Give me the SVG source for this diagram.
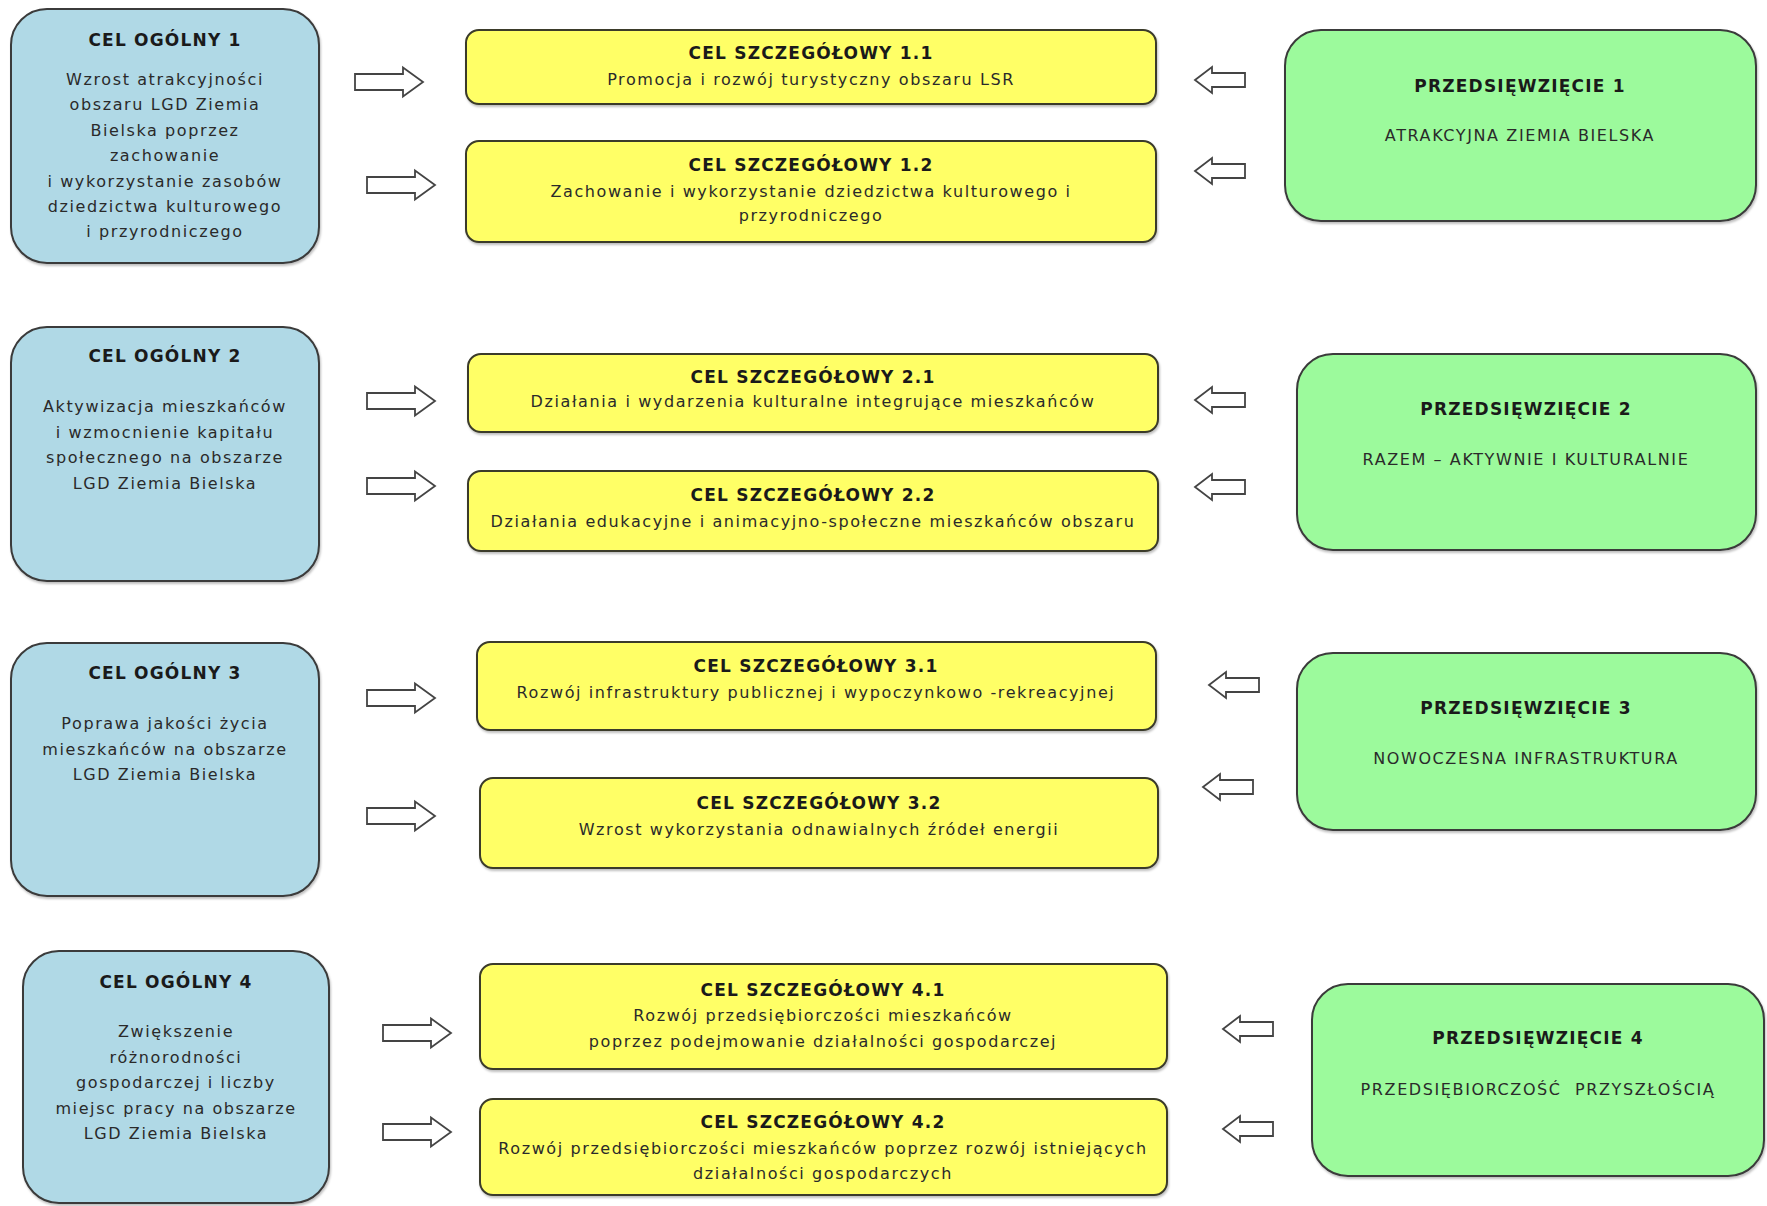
<svg xmlns="http://www.w3.org/2000/svg" xmlns:xlink="http://www.w3.org/1999/xlink" width="1767" height="1206" viewBox="0 0 1767 1206">
<defs>
<style>
.blue{fill:#b0d9e6;stroke:#3a3a3a;stroke-width:2}
.yel{fill:#ffff66;stroke:#3a3a2a;stroke-width:2}
.grn{fill:#9cfa9c;stroke:#3a3a3a;stroke-width:2}
.arr{fill:#ffffff;stroke:#444444;stroke-width:1.8;stroke-linejoin:miter}
text{font-family:"DejaVu Sans",Verdana,"Liberation Sans",sans-serif;text-anchor:middle}
.t{font-weight:bold;font-size:17px;letter-spacing:1.2px;fill:#1a1a1a}
.b{font-size:16px;letter-spacing:1.6px;fill:#2a2a2a}
</style>
<filter id="sh" x="-5%" y="-5%" width="110%" height="115%">
<feDropShadow dx="1" dy="2" stdDeviation="1.2" flood-color="#000" flood-opacity="0.25"/>
</filter>
<path id="ra" class="arr" d="M0,-8 H48 V-14.5 L68,0 L48,14.5 V8 H0 Z"/>
<path id="la" class="arr" d="M0,0 L17,-13 V-7 H50 V7 H17 V13 Z"/>
</defs>
<rect width="1767" height="1206" fill="#ffffff"/>

<g id="connectors">
<use xlink:href="#ra" href="#ra" transform="translate(355,82)"/>
<use xlink:href="#ra" href="#ra" transform="translate(367,185)"/>
<use xlink:href="#ra" href="#ra" transform="translate(367,401)"/>
<use xlink:href="#ra" href="#ra" transform="translate(367,486)"/>
<use xlink:href="#ra" href="#ra" transform="translate(367,698)"/>
<use xlink:href="#ra" href="#ra" transform="translate(367,816)"/>
<use xlink:href="#ra" href="#ra" transform="translate(383,1033)"/>
<use xlink:href="#ra" href="#ra" transform="translate(383,1132)"/>
<use xlink:href="#la" href="#la" transform="translate(1195,80)"/>
<use xlink:href="#la" href="#la" transform="translate(1195,171)"/>
<use xlink:href="#la" href="#la" transform="translate(1195,400)"/>
<use xlink:href="#la" href="#la" transform="translate(1195,487)"/>
<use xlink:href="#la" href="#la" transform="translate(1209,685)"/>
<use xlink:href="#la" href="#la" transform="translate(1203,787)"/>
<use xlink:href="#la" href="#la" transform="translate(1223,1029)"/>
<use xlink:href="#la" href="#la" transform="translate(1223,1129)"/>
</g>

<g id="cel-ogolny-1">
<rect class="blue" filter="url(#sh)" x="11" y="9" width="308" height="254" rx="36"/>
<text class="t" x="165" y="46">CEL OGÓLNY 1</text>
<text class="b" x="165" y="85">Wzrost atrakcyjności</text>
<text class="b" x="165" y="110.4">obszaru LGD Ziemia</text>
<text class="b" x="165" y="135.8">Bielska poprzez</text>
<text class="b" x="165" y="161.2">zachowanie</text>
<text class="b" x="165" y="186.6">i wykorzystanie zasobów</text>
<text class="b" x="165" y="212">dziedzictwa kulturowego</text>
<text class="b" x="165" y="237.4">i przyrodniczego</text>
</g>

<g id="cel-ogolny-2">
<rect class="blue" filter="url(#sh)" x="11" y="327" width="308" height="254" rx="36"/>
<text class="t" x="165" y="362">CEL OGÓLNY 2</text>
<text class="b" x="165" y="412">Aktywizacja mieszkańców</text>
<text class="b" x="165" y="437.5">i wzmocnienie kapitału</text>
<text class="b" x="165" y="463">społecznego na obszarze</text>
<text class="b" x="165" y="488.5">LGD Ziemia Bielska</text>
</g>

<g id="cel-ogolny-3">
<rect class="blue" filter="url(#sh)" x="11" y="643" width="308" height="253" rx="36"/>
<text class="t" x="165" y="679">CEL OGÓLNY 3</text>
<text class="b" x="165" y="729">Poprawa jakości życia</text>
<text class="b" x="165" y="754.5">mieszkańców na obszarze</text>
<text class="b" x="165" y="780">LGD Ziemia Bielska</text>
</g>

<g id="cel-ogolny-4">
<rect class="blue" filter="url(#sh)" x="23" y="951" width="306" height="252" rx="36"/>
<text class="t" x="176" y="988">CEL OGÓLNY 4</text>
<text class="b" x="176" y="1037">Zwiększenie</text>
<text class="b" x="176" y="1062.5">różnorodności</text>
<text class="b" x="176" y="1088">gospodarczej i liczby</text>
<text class="b" x="176" y="1113.5">miejsc pracy na obszarze</text>
<text class="b" x="176" y="1139">LGD Ziemia Bielska</text>
</g>

<g id="cel-szczegolowy-1-1">
<rect class="yel" filter="url(#sh)" x="466" y="30" width="690" height="74" rx="13"/>
<text class="t" x="811" y="59">CEL SZCZEGÓŁOWY 1.1</text>
<text class="b" x="811" y="85">Promocja i rozwój turystyczny obszaru LSR</text>
</g>

<g id="cel-szczegolowy-1-2">
<rect class="yel" filter="url(#sh)" x="466" y="141" width="690" height="101" rx="13"/>
<text class="t" x="811" y="171">CEL SZCZEGÓŁOWY 1.2</text>
<text class="b" x="811" y="197">Zachowanie i wykorzystanie dziedzictwa kulturowego i</text>
<text class="b" x="811" y="221">przyrodniczego</text>
</g>

<g id="cel-szczegolowy-2-1">
<rect class="yel" filter="url(#sh)" x="468" y="354" width="690" height="78" rx="13"/>
<text class="t" x="813" y="383">CEL SZCZEGÓŁOWY 2.1</text>
<text class="b" x="813" y="407">Działania i wydarzenia kulturalne integrujące mieszkańców</text>
</g>

<g id="cel-szczegolowy-2-2">
<rect class="yel" filter="url(#sh)" x="468" y="471" width="690" height="80" rx="13"/>
<text class="t" x="813" y="501">CEL SZCZEGÓŁOWY 2.2</text>
<text class="b" x="813" y="527">Działania edukacyjne i animacyjno-społeczne mieszkańców obszaru</text>
</g>

<g id="cel-szczegolowy-3-1">
<rect class="yel" filter="url(#sh)" x="477" y="642" width="679" height="88" rx="13"/>
<text class="t" x="816" y="672">CEL SZCZEGÓŁOWY 3.1</text>
<text class="b" x="816" y="698">Rozwój infrastruktury publicznej i wypoczynkowo -rekreacyjnej</text>
</g>

<g id="cel-szczegolowy-3-2">
<rect class="yel" filter="url(#sh)" x="480" y="778" width="678" height="90" rx="13"/>
<text class="t" x="819" y="809">CEL SZCZEGÓŁOWY 3.2</text>
<text class="b" x="819" y="835">Wzrost wykorzystania odnawialnych źródeł energii</text>
</g>

<g id="cel-szczegolowy-4-1">
<rect class="yel" filter="url(#sh)" x="480" y="964" width="687" height="105" rx="13"/>
<text class="t" x="823" y="996">CEL SZCZEGÓŁOWY 4.1</text>
<text class="b" x="823" y="1021">Rozwój przedsiębiorczości mieszkańców</text>
<text class="b" x="823" y="1047">poprzez podejmowanie działalności gospodarczej</text>
</g>

<g id="cel-szczegolowy-4-2">
<rect class="yel" filter="url(#sh)" x="480" y="1099" width="687" height="96" rx="13"/>
<text class="t" x="823" y="1128">CEL SZCZEGÓŁOWY 4.2</text>
<text class="b" x="823" y="1154">Rozwój przedsiębiorczości mieszkańców poprzez rozwój istniejących</text>
<text class="b" x="823" y="1179">działalności gospodarczych</text>
</g>

<g id="przedsiewziecie-1">
<rect class="grn" filter="url(#sh)" x="1285" y="30" width="471" height="191" rx="36"/>
<text class="t" x="1520" y="92">PRZEDSIĘWZIĘCIE 1</text>
<text class="b" x="1520" y="141">ATRAKCYJNA ZIEMIA BIELSKA</text>
</g>

<g id="przedsiewziecie-2">
<rect class="grn" filter="url(#sh)" x="1297" y="354" width="459" height="196" rx="36"/>
<text class="t" x="1526" y="415">PRZEDSIĘWZIĘCIE 2</text>
<text class="b" x="1526" y="465">RAZEM – AKTYWNIE I KULTURALNIE</text>
</g>

<g id="przedsiewziecie-3">
<rect class="grn" filter="url(#sh)" x="1297" y="653" width="459" height="177" rx="36"/>
<text class="t" x="1526" y="714">PRZEDSIĘWZIĘCIE 3</text>
<text class="b" x="1526" y="764">NOWOCZESNA INFRASTRUKTURA</text>
</g>

<g id="przedsiewziecie-4">
<rect class="grn" filter="url(#sh)" x="1312" y="984" width="452" height="192" rx="36"/>
<text class="t" x="1538" y="1044">PRZEDSIĘWZIĘCIE 4</text>
<text class="b" x="1538" y="1095" xml:space="preserve">PRZEDSIĘBIORCZOŚĆ  PRZYSZŁOŚCIĄ</text>
</g>
</svg>
